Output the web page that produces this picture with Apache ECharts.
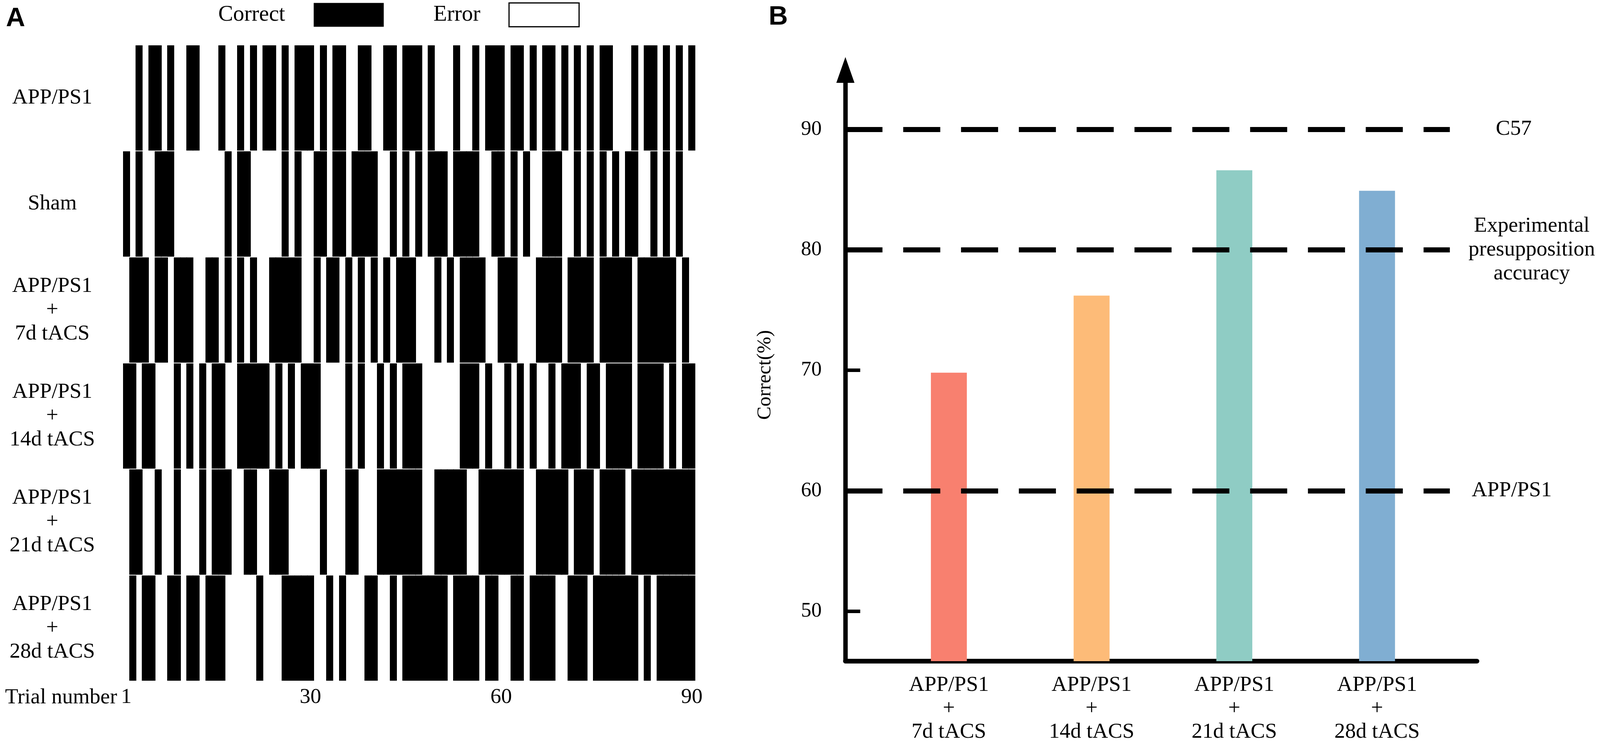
<!DOCTYPE html>
<html>
<head>
<meta charset="utf-8">
<script src="https://cdn.jsdelivr.net/npm/echarts@6/dist/echarts.min.js"></script>
<style>
  html, body { margin: 0; padding: 0; background: #fff; overflow: hidden; }
  #chart { width: 100vw; height: 100vh; }
</style>
</head>
<body>
<div id="chart"></div>
<script>
// Panel A: one string per group, 90 trials, 1 = correct, 0 = error
var rowNames = ['APP/PS1', 'Sham', 'APP/PS1\n+\n7d tACS', 'APP/PS1\n+\n14d tACS', 'APP/PS1\n+\n21d tACS', 'APP/PS1\n+\n28d tACS'];
var trialsAPP  = '0010110100 1100010010 1011010111 0101100110 0110111010 0010010111 0110101101 0101011000 1011010101';
var trialsSham = '1010011100 0000001011 0000010100 1101101111 0010101011 1011110011 0101001110 0101010101 1001010100';
var trials7d   = '0111011011 1001101010 1001111100 1011010101 0101110001 0101111001 1100011110 1111011111 0111111010';
var trials14d  = '1101100010 1010110011 1110101011 1000010100 1010111000 0001110100 1010100101 1101101111 0111101011';
var trials21d  = '0110010010 0010111001 1001110000 0100011000 1111111001 1111001111 1110011111 0111011110 1111111111';
var trials28d  = '0101100110 1101110000 0100011111 0010100011 0010111111 1011110110 0110111100 1110111111 1010111111';
var trialTicks = [1, 30, 60, 90];

// Panel B
var groupLabels = ['APP/PS1\n+\n7d tACS', 'APP/PS1\n+\n14d tACS', 'APP/PS1\n+\n21d tACS', 'APP/PS1\n+\n28d tACS'];
var correctPct = [69.8, 76.2, 86.6, 84.9];
var barColors = ['#F8806F', '#FDBB78', '#8FCCC4', '#80AED2'];
var refLevels = [90, 80, 60];
var refNames = ['C57', 'Experimental\npresupposition\naccuracy', 'APP/PS1'];
var pctTicks = [50, 60, 70, 80, 90];

var serif = 'Liberation Serif';
var rows = [trialsAPP, trialsSham, trials7d, trials14d, trials21d, trials28d];
var trialNumbers = [];
for (var i = 1; i <= 90; i++) trialNumbers.push(String(i));

var correctCells = [];
var errorCells = [];
rows.forEach(function (row, r) {
    row.replace(/\s/g, '').split('').forEach(function (c, t) {
        if (c === '1') correctCells.push([t, r]);
        else errorCells.push([t, r]);
    });
});

// layout is measured on a 4317 x 1904 figure; scale it to whatever the window is
var dom = document.getElementById('chart');
var sx = (dom.clientWidth || 4317) / 4317;
var sy = (dom.clientHeight || 1904) / 1904;
var fs = Math.min(sx, sy);
function X(v) { return v * sx; }
function Y(v) { return v * sy; }
function F(v) { return Math.round(v * fs); }

function renderCell(params, api) {
    var p = api.coord([api.value(0), api.value(1)]);
    var s = api.size([1, 1]);
    return {
        type: 'rect',
        shape: {
            x: Math.floor(p[0] - s[0] / 2),
            y: p[1] - s[1] / 2 + 1,
            width: Math.ceil(s[0]) + 1,
            height: s[1] - 2
        },
        style: { fill: api.visual('color') }
    };
}

// x range of panel B in category units, so the bars sit where the figure has them
var xMin = 0.275, xMax = 4.70, refEnd = 4.51;
// label offset from the line end (to the left edge, or to the centre for the 3-line one)
var refLabelGap = [124, 221, 59];

var chart = echarts.init(dom);

var option = {
    backgroundColor: '#fff',
    animation: false,
    textStyle: { fontFamily: serif, color: '#000' },
    graphic: [
        { type: 'text', left: X(16), top: Y(14), style: { text: 'A', font: 'bold ' + F(72) + 'px "Liberation Sans"', fill: '#000' } },
        { type: 'text', left: X(2074), top: Y(10), style: { text: 'B', font: 'bold ' + F(72) + 'px "Liberation Sans"', fill: '#000' } },
        { type: 'text', x: X(316), y: Y(1786), style: { text: 'Trial number', font: F(58) + 'px "Liberation Serif"', fill: '#000', align: 'right', verticalAlign: 'middle' } }
    ],
    legend: {
        left: X(589),
        top: Y(6),
        padding: 0,
        icon: 'rect',
        itemWidth: X(189),
        itemHeight: Y(61),
        itemGap: X(134),
        align: 'right',
        selectedMode: false,
        textStyle: { fontFamily: serif, fontSize: F(60), color: '#000', padding: [0, X(72), 0, 0] },
        data: [
            { name: 'Correct' },
            { name: 'Error', itemStyle: { color: '#fff', borderColor: '#000', borderWidth: 3 } }
        ]
    },
    grid: [
        { left: X(332), width: X(1543), top: Y(115), height: Y(1628) },
        { left: X(2281), width: X(1704), top: Y(179), height: Y(1513) }
    ],
    xAxis: [
        {
            gridIndex: 0,
            type: 'category',
            data: trialNumbers,
            axisLine: { show: false },
            axisTick: { show: false },
            axisLabel: {
                interval: function (idx) { return trialTicks.indexOf(idx + 1) >= 0; },
                fontSize: F(58),
                margin: Y(14),
                color: '#000'
            }
        },
        {
            gridIndex: 1,
            type: 'value',
            min: xMin,
            max: xMax,
            splitLine: { show: false },
            axisTick: { show: false },
            axisLine: { show: true, onZero: false, lineStyle: { color: '#000', width: Y(12) } },
            axisLabel: {
                customValues: [1, 2, 3, 4],
                formatter: function (v) { return groupLabels[Math.round(v) - 1]; },
                fontSize: F(58),
                lineHeight: Y(60),
                margin: Y(32),
                color: '#000'
            }
        }
    ],
    yAxis: [
        {
            gridIndex: 0,
            type: 'category',
            data: rowNames,
            inverse: true,
            axisLine: { show: false },
            axisTick: { show: false },
            axisLabel: {
                align: 'center',
                margin: X(191),
                fontSize: F(58),
                lineHeight: Y(61),
                color: '#000'
            }
        },
        {
            gridIndex: 1,
            type: 'value',
            min: 45.85,
            max: 94.93,
            name: 'Correct(%)',
            nameLocation: 'middle',
            nameRotate: 90,
            nameGap: X(190),
            nameTextStyle: { fontSize: F(54), fontFamily: serif, color: '#000', padding: [0, Y(48), 0, 0] },
            splitLine: { show: false },
            axisLine: {
                show: true,
                lineStyle: { color: '#000', width: X(12) },
                symbol: ['none', 'triangle'],
                symbolSize: [X(49), Y(66)]
            },
            axisTick: {
                show: true,
                inside: true,
                length: X(40),
                customValues: pctTicks,
                lineStyle: { color: '#000', width: Y(9) }
            },
            axisLabel: {
                customValues: pctTicks,
                fontSize: F(56),
                margin: X(64),
                color: '#000'
            }
        }
    ],
    series: [
        {
            name: 'Error',
            type: 'custom',
            xAxisIndex: 0,
            yAxisIndex: 0,
            renderItem: renderCell,
            itemStyle: { color: '#fff' },
            data: errorCells,
            silent: true
        },
        {
            name: 'Correct',
            type: 'custom',
            xAxisIndex: 0,
            yAxisIndex: 0,
            renderItem: renderCell,
            itemStyle: { color: '#000' },
            data: correctCells,
            silent: true
        },
        {
            name: 'Correct (%)',
            type: 'bar',
            xAxisIndex: 1,
            yAxisIndex: 1,
            barWidth: X(97),
            clip: true,
            data: correctPct.map(function (v, i) {
                return { value: [i + 1, v], itemStyle: { color: barColors[i] } };
            }),
            markLine: {
                silent: true,
                symbol: ['none', 'none'],
                lineStyle: { color: '#000', width: Y(13), type: [X(100), X(56)] },
                data: refLevels.map(function (lvl, i) {
                    return [
                        { coord: [xMin, lvl] },
                        {
                            coord: [refEnd, lvl],
                            label: {
                                show: true,
                                position: 'end',
                                formatter: refNames[i],
                                distance: X(refLabelGap[i]),
                                align: i === 1 ? 'center' : 'left',
                                fontFamily: serif,
                                fontSize: F(58),
                                lineHeight: Y(61),
                                color: '#000'
                            }
                        }
                    ];
                })
            }
        }
    ]
};

chart.setOption(option);
</script>
</body>
</html>
